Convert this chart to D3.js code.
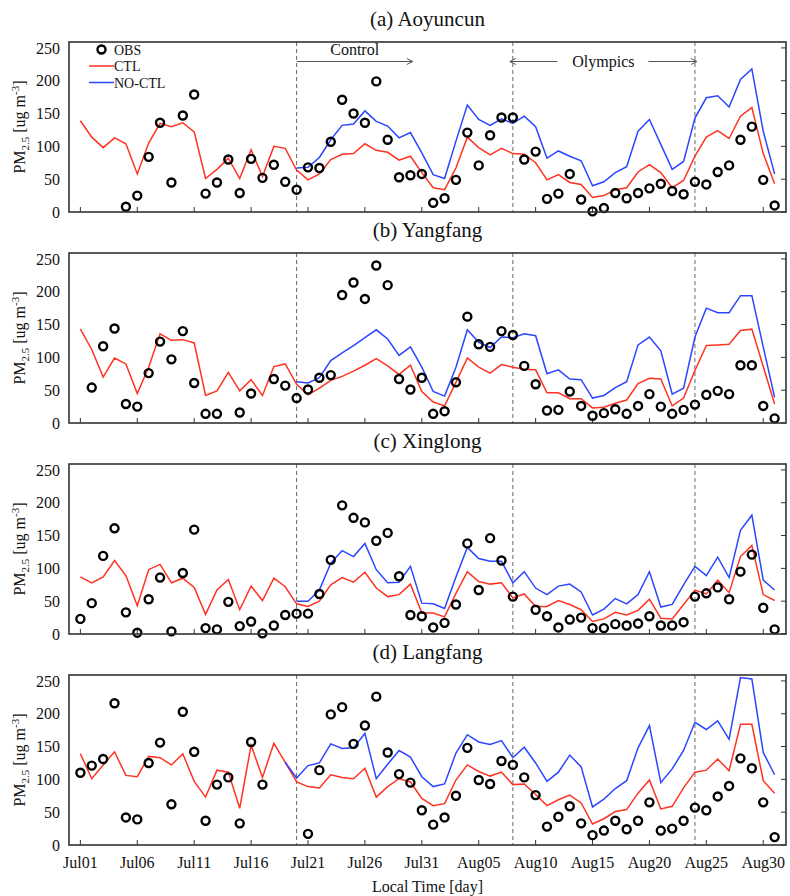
<!DOCTYPE html>
<html>
<head>
<meta charset="utf-8">
<script src="https://cdn.jsdelivr.net/npm/d3@7"></script>
<style>
  body { margin: 0; background: #fff; }
  svg text { font-family: "Liberation Serif", "Times New Roman", serif; fill: #111; }
</style>
</head>
<body>
<div id="chart"></div>
<script>
// days Jul01 .. Aug31 (2008), one value per day; null = no value
const DAYS = d3.timeDay.range(new Date(2008, 6, 1), new Date(2008, 8, 1));
const TICK_DAYS = DAYS.filter((d, i) => i % 5 === 0);
const EVENT_DAYS = [new Date(2008, 6, 20), new Date(2008, 7, 8), new Date(2008, 7, 24)];
const Y_TICKS = [0, 50, 100, 150, 200, 250];

const OBS_A = [null,null,null,null,8,25,84,136,45,147,179,28,45,80,29,81,52,72,46,34,68,67,107,171,150,136,199,110,53,56,58,14,21,49,121,71,117,144,144,80,92,20,28,58,19,1,6,29,21,29,36,43,32,27,46,42,61,71,110,130,49,10];
const CTL_A = [139,114,98,113,104,58,105,135,130,136,122,51,65,82,51,95,54,100,97,64,49,58,80,88,89,104,94,91,79,85,60,37,34,67,114,98,87,97,89,88,75,49,57,45,42,22,25,34,37,61,72,60,37,48,85,114,124,112,146,159,89,43];
const NOCTL_A = [null,null,null,null,null,null,null,null,null,null,null,null,null,null,null,null,null,null,null,
  67,68,83,110,132,134,154,138,131,113,121,90,57,51,108,163,141,132,142,135,146,130,82,93,85,78,40,46,60,69,123,141,103,65,77,143,174,177,160,202,218,123,58];

const OBS_B = [null,54,117,144,29,25,76,124,97,140,61,14,14,null,16,45,null,67,57,38,51,69,73,195,214,189,240,210,67,51,69,14,18,62,162,120,116,140,134,87,59,19,20,48,26,11,15,21,14,26,44,25,14,20,28,43,49,44,88,88,26,7];
const CTL_B = [143,112,70,99,90,45,85,136,126,127,122,42,49,77,49,66,42,86,90,59,43,53,65,71,79,88,98,87,74,88,48,32,26,62,99,85,76,89,85,82,81,46,46,37,37,23,24,30,35,60,68,67,26,38,80,118,119,120,141,143,86,29];
const NOCTL_B = [null,null,null,null,null,null,null,null,null,null,null,null,null,null,null,null,null,null,null,
  63,61,69,95,107,118,130,142,128,103,116,85,48,41,85,142,123,115,131,130,136,133,75,81,67,66,38,42,54,63,119,131,110,44,53,131,175,168,168,194,194,116,39];

const OBS_C = [23,47,119,161,33,2,53,86,4,93,159,9,7,49,12,19,1,13,29,31,31,61,113,196,177,170,142,154,88,29,27,10,17,45,138,67,146,112,57,null,37,27,10,22,25,9,9,15,13,16,27,13,13,18,57,62,71,53,95,121,40,7];
const CTL_C = [87,78,87,112,89,43,98,106,78,85,71,30,67,83,37,73,51,85,72,46,42,50,75,86,79,94,70,57,60,76,32,32,26,62,95,80,76,78,55,61,42,42,51,45,37,19,23,33,29,36,53,24,23,45,67,61,82,63,118,135,60,51];
const NOCTL_C = [null,null,null,null,null,null,null,null,null,null,null,null,null,null,null,null,null,null,null,
  50,50,67,108,127,118,138,98,78,79,103,47,46,39,87,132,115,111,111,78,95,70,60,73,76,64,29,38,54,46,60,95,41,45,75,103,89,117,86,158,181,82,67];

const OBS_D = [110,121,131,216,42,39,125,156,62,203,142,37,92,103,33,157,92,null,null,null,17,114,199,210,154,182,226,141,108,95,53,31,42,75,148,99,93,128,122,103,76,28,43,59,33,15,22,37,24,37,65,22,25,37,57,53,74,90,132,117,65,12];
const CTL_D = [139,101,122,142,106,104,135,133,122,139,97,73,114,111,56,152,103,155,126,96,89,87,107,103,101,117,73,89,101,96,71,60,63,99,122,112,105,111,92,93,77,60,69,76,64,32,40,51,54,79,99,55,59,87,111,114,131,113,184,184,98,79];
const NOCTL_D = [null,null,null,null,null,null,null,null,null,null,null,null,null,null,null,null,null,null,
  126,102,121,125,154,147,148,170,101,123,144,134,104,89,93,140,168,157,153,159,133,149,125,97,111,137,119,58,70,86,98,148,182,95,116,144,187,176,189,161,255,253,141,107];

const PANELS = [
    { title: '(a) Aoyuncun', obs: OBS_A, ctl: CTL_A, noctl: NOCTL_A },
    { title: '(b) Yangfang', obs: OBS_B, ctl: CTL_B, noctl: NOCTL_B },
    { title: '(c) Xinglong', obs: OBS_C, ctl: CTL_C, noctl: NOCTL_C },
    { title: '(d) Langfang', obs: OBS_D, ctl: CTL_D, noctl: NOCTL_D }
];

const WIDTH = 790;
const HEIGHT = 896;
const PLOT_LEFT = 69;
const PLOT_RIGHT = 786;
const PANEL_TOP = 42;
const PANEL_HEIGHT = 170;
const PANEL_STEP = 211;
const RED = '#ff3322';
const BLUE = '#2a46ff';
const FRAME = '#333';
const OBS_R = 4;
const OBS_STROKE = 2.4;

const svg = d3.select('#chart')
    .append('svg')
    .attr('width', WIDTH)
    .attr('height', HEIGHT);

svg.append('rect')
    .attr('width', WIDTH)
    .attr('height', HEIGHT)
    .attr('fill', '#fff');

const x = d3.scaleTime()
    .domain([new Date(2008, 5, 30), new Date(2008, 8, 1)])
    .range([PLOT_LEFT, PLOT_RIGHT]);

function drawYLabel(g, yMid) {
    const label = g.append('text')
        .attr('transform', `translate(25,${yMid}) rotate(-90)`)
        .attr('text-anchor', 'middle')
        .attr('font-size', 16);
    label.append('tspan').text('PM');
    label.append('tspan').attr('font-size', 11).attr('dy', 4).text('2.5');
    label.append('tspan').attr('dy', -4).text(' [ug m');
    label.append('tspan').attr('font-size', 11).attr('dy', -6).text('-3');
    label.append('tspan').attr('dy', 6).text(']');
}

function drawArrowHead(g, xTip, yTip, dir) {
    g.append('path')
        .attr('d', `M${xTip - dir * 6},${yTip - 3}L${xTip},${yTip}L${xTip - dir * 6},${yTip + 3}`)
        .attr('fill', 'none')
        .attr('stroke', '#555')
        .attr('stroke-width', 1);
}

function drawAnnotations(g) {
    const yArrow = 61.5;
    // Control period arrow
    const c0 = x(EVENT_DAYS[0]);
    const c1 = x(d3.timeHour.offset(new Date(2008, 6, 30), 5));
    g.append('line')
        .attr('x1', c0).attr('x2', c1)
        .attr('y1', yArrow).attr('y2', yArrow)
        .attr('stroke', '#555').attr('stroke-width', 1);
    drawArrowHead(g, c1, yArrow, 1);
    g.append('text')
        .attr('x', (c0 + c1) / 2)
        .attr('y', 55)
        .attr('text-anchor', 'middle')
        .attr('font-size', 16)
        .text('Control');

    // Olympics arrow, broken around the label
    const o0 = x(EVENT_DAYS[1]) - 3;
    const o1 = x(EVENT_DAYS[2]) + 2;
    const oMid = (o0 + o1) / 2;
    g.append('line')
        .attr('x1', o0).attr('x2', oMid - 46)
        .attr('y1', yArrow).attr('y2', yArrow)
        .attr('stroke', '#555').attr('stroke-width', 1);
    g.append('line')
        .attr('x1', oMid + 45).attr('x2', o1)
        .attr('y1', yArrow).attr('y2', yArrow)
        .attr('stroke', '#555').attr('stroke-width', 1);
    drawArrowHead(g, o0, yArrow, -1);
    drawArrowHead(g, o1, yArrow, 1);
    g.append('text')
        .attr('x', oMid)
        .attr('y', yArrow + 5)
        .attr('text-anchor', 'middle')
        .attr('font-size', 16)
        .text('Olympics');
}

function drawLegend(g) {
    const lx = 89;
    g.append('circle')
        .attr('cx', 101.5).attr('cy', 49.5).attr('r', OBS_R)
        .attr('fill', 'none').attr('stroke', '#000').attr('stroke-width', OBS_STROKE);
    const rows = [
        { label: 'OBS', y: 49.5, color: null },
        { label: 'CTL', y: 66, color: RED },
        { label: 'NO-CTL', y: 82.5, color: BLUE }
    ];
    rows.forEach(row => {
        if (row.color) {
            g.append('line')
                .attr('x1', lx).attr('x2', lx + 25)
                .attr('y1', row.y).attr('y2', row.y)
                .attr('stroke', row.color).attr('stroke-width', 1.5);
        }
        g.append('text')
            .attr('x', 114)
            .attr('y', row.y + 5)
            .attr('font-size', 14)
            .text(row.label);
    });
}

function drawPanel(panel, index) {
    const top = PANEL_TOP + index * PANEL_STEP;
    const bottom = top + PANEL_HEIGHT;
    const y = d3.scaleLinear().domain([0, 259]).range([bottom, top]);
    const g = svg.append('g');

    g.append('text')
        .attr('x', (PLOT_LEFT + PLOT_RIGHT) / 2)
        .attr('y', top - 16)
        .attr('text-anchor', 'middle')
        .attr('font-size', 21)
        .text(panel.title);

    // y tick labels
    g.selectAll('.ylab')
        .data(Y_TICKS)
        .join('text')
        .attr('x', 60)
        .attr('y', d => y(d))
        .attr('dy', '0.35em')
        .attr('text-anchor', 'end')
        .attr('font-size', 16)
        .text(d => d);

    drawYLabel(g, (top + bottom) / 2);

    // inward ticks: right edge and bottom
    g.selectAll('.rtick')
        .data(Y_TICKS)
        .join('line')
        .attr('x1', PLOT_RIGHT - 5).attr('x2', PLOT_RIGHT)
        .attr('y1', d => y(d)).attr('y2', d => y(d))
        .attr('stroke', FRAME).attr('stroke-width', 1);

    g.selectAll('.btick')
        .data(TICK_DAYS)
        .join('line')
        .attr('x1', d => x(d)).attr('x2', d => x(d))
        .attr('y1', bottom - 5).attr('y2', bottom)
        .attr('stroke', FRAME).attr('stroke-width', 1);

    // period boundaries
    g.selectAll('.event')
        .data(EVENT_DAYS)
        .join('line')
        .attr('x1', d => x(d)).attr('x2', d => x(d))
        .attr('y1', top).attr('y2', bottom)
        .attr('stroke', '#666')
        .attr('stroke-width', 1)
        .attr('stroke-dasharray', '4,3');

    const line = d3.line()
        .defined(v => v != null)
        .x((v, i) => x(DAYS[i]))
        .y(v => y(v));

    g.append('path')
        .attr('d', line(panel.ctl))
        .attr('fill', 'none')
        .attr('stroke', RED)
        .attr('stroke-width', 1.5);

    g.append('path')
        .attr('d', line(panel.noctl))
        .attr('fill', 'none')
        .attr('stroke', BLUE)
        .attr('stroke-width', 1.5);

    const obsPoints = panel.obs
        .map((v, i) => ({ day: DAYS[i], value: v }))
        .filter(p => p.value != null);

    g.selectAll('.obs')
        .data(obsPoints)
        .join('circle')
        .attr('cx', p => x(p.day))
        .attr('cy', p => y(p.value))
        .attr('r', OBS_R)
        .attr('fill', 'none')
        .attr('stroke', '#000')
        .attr('stroke-width', OBS_STROKE);

    g.append('rect')
        .attr('x', PLOT_LEFT).attr('y', top)
        .attr('width', PLOT_RIGHT - PLOT_LEFT)
        .attr('height', PANEL_HEIGHT)
        .attr('fill', 'none')
        .attr('stroke', FRAME)
        .attr('stroke-width', 1.6);

    if (index === 0) {
        drawLegend(g);
        drawAnnotations(g);
    }

    if (index === PANELS.length - 1) {
        const fmt = d3.timeFormat('%b%d');
        g.selectAll('.xlab')
            .data(TICK_DAYS)
            .join('text')
            .attr('x', d => x(d))
            .attr('y', bottom + 23)
            .attr('text-anchor', 'middle')
            .attr('font-size', 16)
            .text(d => fmt(d));

        g.append('text')
            .attr('x', (PLOT_LEFT + PLOT_RIGHT) / 2)
            .attr('y', bottom + 47)
            .attr('text-anchor', 'middle')
            .attr('font-size', 16)
            .text('Local Time [day]');
    }
}

PANELS.forEach(drawPanel);
</script>
</body>
</html>
